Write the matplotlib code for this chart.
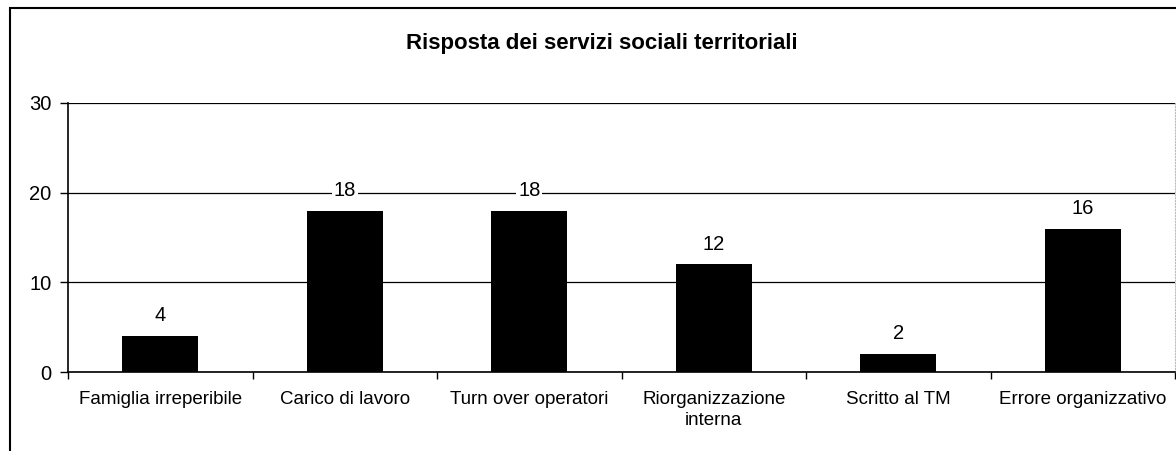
import matplotlib.pyplot as plt
from matplotlib.patches import Rectangle

# data
categorie = ["Famiglia irreperibile", "Carico di lavoro", "Turn over operatori",
             "Riorganizzazione\ninterna", "Scritto al TM", "Errore organizzativo"]
valori = [4, 18, 18, 12, 2, 16]
y_ticks = [0, 10, 20, 30]

plt.rcParams['font.family'] = ['Liberation Sans', 'DejaVu Sans']

fig = plt.figure(figsize=(11.76, 4.51), dpi=100)
ax = fig.add_axes([68/1176, 1-372/451, 1107/1176, 269/451])

x = list(range(len(categorie)))
ax.bar(x, valori, width=0.41, color='black', zorder=3)
for xi, v in zip(x, valori):
    ax.text(xi, v + 1.2, str(v), ha='center', va='bottom', fontsize=14.5,
            zorder=4, bbox=dict(facecolor='white', edgecolor='none', pad=1.5))

ax.set_xlim(-0.5, len(categorie) - 0.5)
ax.set_ylim(0, 30)
ax.set_yticks(y_ticks)
ax.tick_params(axis='y', labelsize=14.5, length=6, width=1, direction='out', pad=6)
ax.set_xticks([i - 0.5 for i in range(len(categorie) + 1)], minor=True)
ax.set_xticks(x)
ax.set_xticklabels(categorie, fontsize=13.5, linespacing=1.25)
ax.tick_params(axis='x', which='major', length=0, pad=14)
ax.tick_params(axis='x', which='minor', length=5, width=1, direction='out')

ax.grid(axis='y', color='black', linewidth=0.9, zorder=0)
ax.spines['left'].set_linewidth(1.2)
ax.spines['bottom'].set_linewidth(1.2)
ax.spines['top'].set_visible(False)
ax.spines['right'].set_color('#bbbbbb')
ax.spines['right'].set_linestyle(':')

fig.text(602/1176, 1 - 44/451, "Risposta dei servizi sociali territoriali",
         ha='center', va='center', fontsize=16, fontweight='bold')

# cornice del grafico
fig.patches.append(Rectangle((10/1176, -0.1), 1.2, 1 - 8/451 + 0.1,
                             transform=fig.transFigure, fill=False,
                             edgecolor='black', linewidth=1.5))

plt.savefig("out.png", dpi=100)
